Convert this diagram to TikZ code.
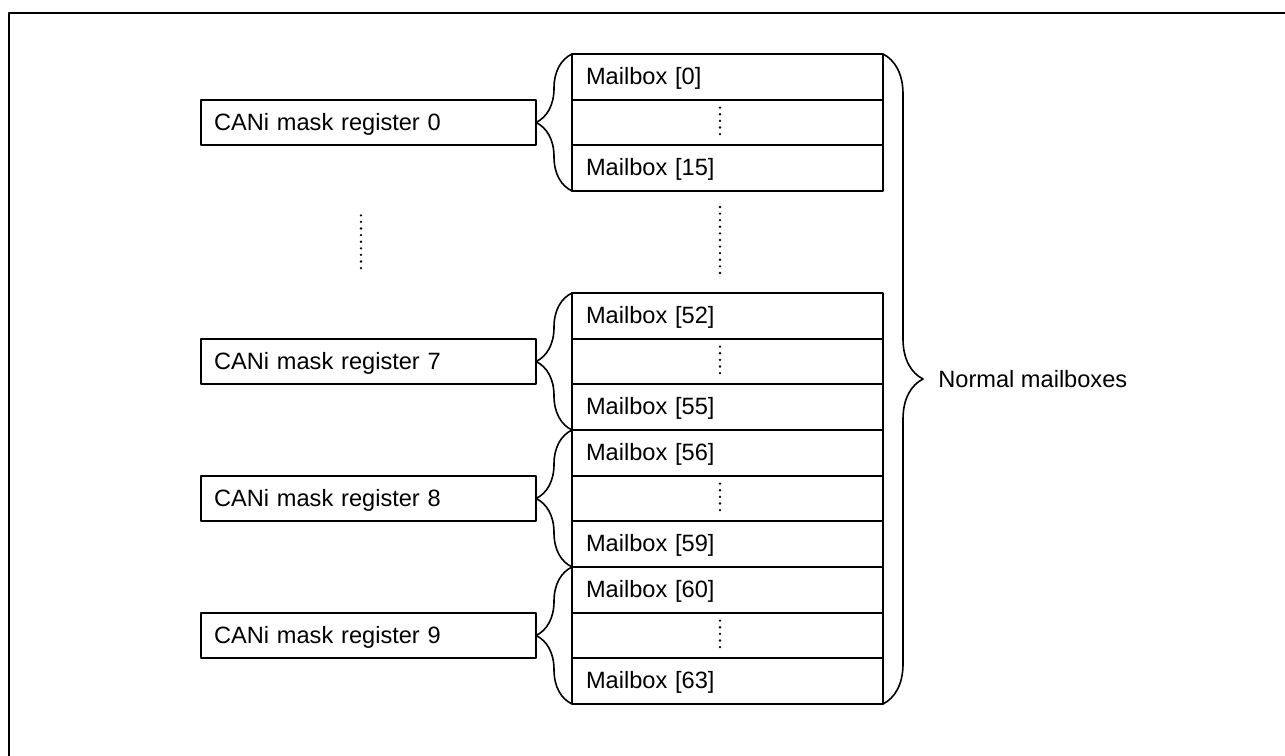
\documentclass[tikz,border=0pt]{standalone}
\usepackage{fontspec}
\setmainfont{Liberation Sans}
\usetikzlibrary{positioning,decorations.pathreplacing}
\begin{document}
\begin{tikzpicture}[x=0.5pt, y=-0.5pt, font=\fontsize{11.8}{14}\selectfont, line join=round, line cap=round,
mbox/.style={draw, line width=1pt, outer sep=0pt, minimum height=22.83pt, text width=141.5pt, inner xsep=7pt, align=left, text depth=1pt},
regbox/.style={draw, line width=1pt, outer sep=0pt, minimum height=22.83pt, text width=154.5pt, inner xsep=6.5pt, align=left, text depth=1pt},
lbrace/.style={decorate, decoration={brace, amplitude=18pt}, line width=0.8pt},
rbrace/.style={decorate, decoration={brace, amplitude=20pt}, line width=0.8pt},
dotline/.style={line width=1.3pt, dash pattern=on 0pt off 3.3pt}]
\path[use as bounding box, clip] (0,0) rectangle (1285,755);
\draw[line width=0.6pt] (9,13) rectangle (1300,770);
\foreach \g/\top/\first/\last/\reg in {a/54/0/15/0, b/293/52/55/7, c/430/56/59/8, d/567/60/63/9}{
\node[mbox, anchor=north west] (\g1) at (572,\top) {Mailbox [\first]};
\node[mbox, below=0pt of \g1] (\g2) {};
\node[mbox, below=0pt of \g2] (\g3) {Mailbox [\last]};
\node[regbox, left=18pt of \g2] (r\g) {CANi mask register \reg};
\draw[lbrace] (\g3.south west) -- (\g1.north west);
\draw[dotline] ([xshift=-3.75pt,yshift=-4pt]\g2.north) -- ([xshift=-3.75pt,yshift=4pt]\g2.south);
}
\draw[dotline] ([xshift=-3.75pt,yshift=-35pt]ra.south) -- ([xshift=-3.75pt,yshift=35pt]rb.north);
\draw[dotline] ([xshift=-3.75pt,yshift=-8pt]a3.south) -- ([xshift=-3.75pt,yshift=8pt]b1.north);
\draw[rbrace] (a1.north east) -- (d3.south east) coordinate[midway] (mid);
\node[anchor=west, inner sep=0pt] (normal) at ([xshift=27.5pt]mid) {Normal mailboxes};
\end{tikzpicture}
\end{document}
